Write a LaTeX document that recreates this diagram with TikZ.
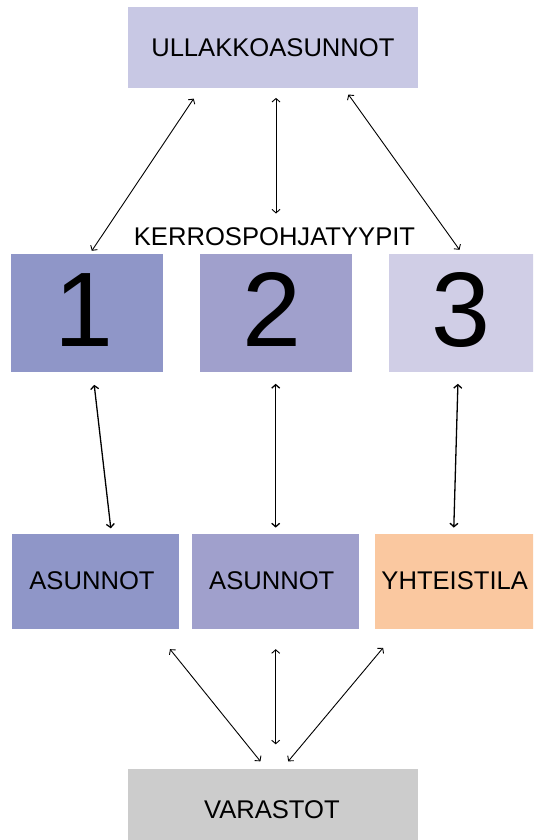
\documentclass[tikz,border=0pt]{standalone}
\usepackage{fontspec}
\setmainfont{Liberation Sans}
\usetikzlibrary{arrows.meta}
\definecolor{cTop}{HTML}{C8C8E4}
\definecolor{cA}{HTML}{8F96C8}
\definecolor{cB}{HTML}{A0A0CC}
\definecolor{cC}{HTML}{D0CEE6}
\definecolor{cD}{HTML}{FAC8A0}
\definecolor{cE}{HTML}{CCCCCC}
\tikzset{
  box/.style={rectangle, draw=none, inner sep=0pt, font=\fontsize{25.6}{30}\selectfont},
  leftish/.style={execute at begin node={\kern-7pt}},
  numbox/.style={box, leftish, minimum width=152pt, minimum height=117.5pt,
     font=\fontsize{106}{110}\selectfont, text height=66.8pt, text depth=0pt},
  lowbox/.style={box, leftish, minimum width=166.8pt, minimum height=95pt},
  widebox/.style={box, minimum width=289.6pt, minimum height=81pt},
  lbl/.style={inner sep=0pt, font=\fontsize{25.6}{30}\selectfont},
  arr/.style={{Straight Barb[length=3.5pt,width=8pt]}-{Straight Barb[length=3.5pt,width=8pt]}, line width=0.9pt, black},
  arrb/.style={arr, line width=1.3pt}
}
\begin{document}
\begin{tikzpicture}[x=1pt,y=-1pt]
\useasboundingbox (0,0) rectangle (533,840);
\clip (0,0) rectangle (533,840);
\fill[white] (0,0) rectangle (533,840);
% boxes
\node[widebox, fill=cTop] (u) at (272.9,48) {ULLAKKOASUNNOT};
\node[lbl] (kp) at (274.5,236.2) {KERROSPOHJATYYPIT};
\node[numbox, fill=cA] (k1) at (87.05,312.8) {1};
\node[numbox, fill=cB] (k2) at (275.85,312.8) {2};
\node[numbox, fill=cC] (k3) at (464.9,312.8) {3};
\node[lowbox, fill=cA] (a1) at (95.5,581) {ASUNNOT};
\node[lowbox, fill=cB] (a2) at (275.3,581) {ASUNNOT};
\node[lowbox, fill=cD] (a3) at (458.2,581) {YHTEISTILA};
\node[widebox, fill=cE] (v) at (272.9,809.3) {\kern-2pt VARASTOT};
% connector ends
\coordinate (u1) at (193.7,98.6);   \coordinate (k1t) at (91.8,250.8);
\coordinate (u2) at (276,97.9);     \coordinate (kpt) at (276,213.5);
\coordinate (u3) at (348.4,94.5);   \coordinate (k3t) at (459.5,249.8);
\coordinate (k1b) at (94.2,384.8);  \coordinate (a1t) at (110.8,528.3);
\coordinate (k2b) at (275.7,383.8); \coordinate (a2t) at (275.7,527.6);
\coordinate (k3b) at (457.9,383.8); \coordinate (a3t) at (453.8,527.6);
\coordinate (a1b) at (170,649.2);   \coordinate (v1) at (260.4,761.3);
\coordinate (a2b) at (275.7,649.2); \coordinate (v2) at (275.7,744.3);
\coordinate (a3b) at (383.1,647.8); \coordinate (v3) at (288.2,761.3);
% connectors
\draw[arr] (u1) -- (k1t);
\draw[arr] (u2) -- (kpt);
\draw[arr] (u3) -- (k3t);
\draw[arrb] (k1b) -- (a1t);
\draw[arrb] (k2b) -- (a2t);
\draw[arrb] (k3b) -- (a3t);
\draw[arr] (a1b) -- (v1);
\draw[arr] (a2b) -- (v2);
\draw[arr] (a3b) -- (v3);
\end{tikzpicture}
\end{document}
